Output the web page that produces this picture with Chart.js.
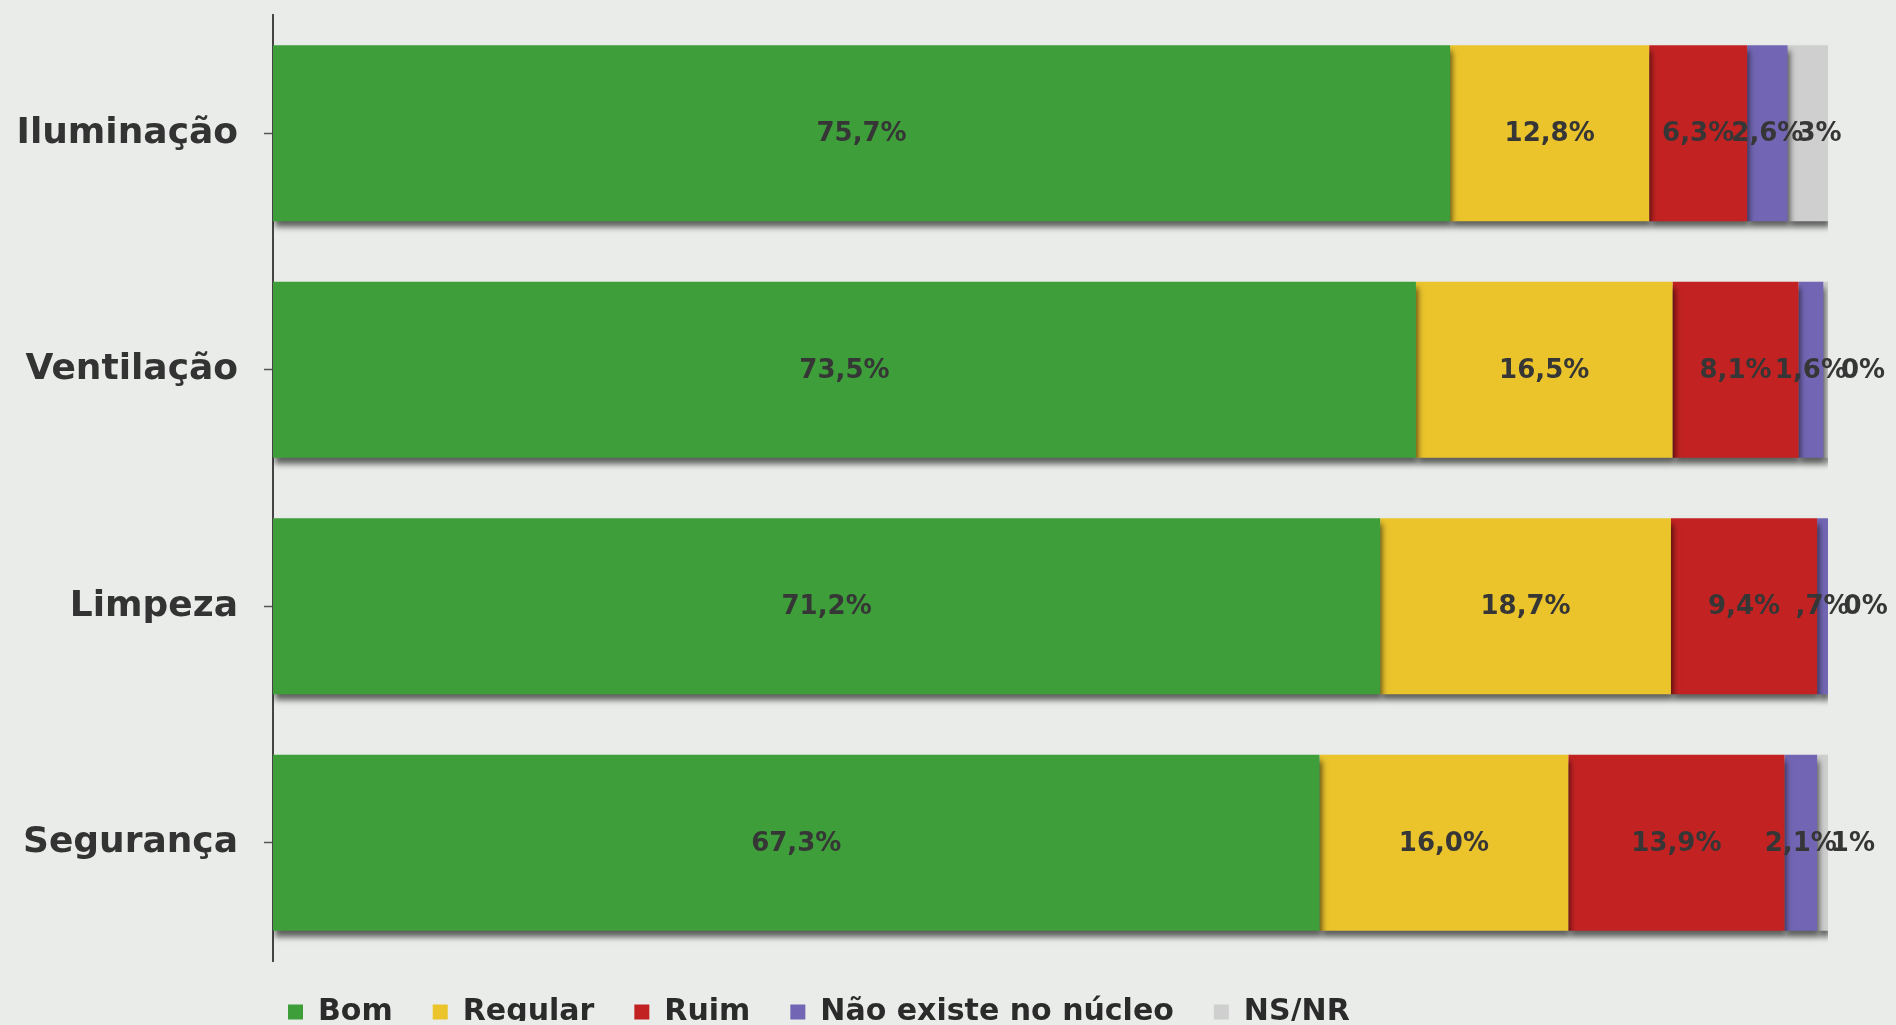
<!DOCTYPE html>
<html><head><meta charset="utf-8">
<script src="https://cdn.jsdelivr.net/npm/chart.js@4/dist/chart.umd.min.js"></script>
<style>html,body{margin:0;padding:0;background:#e9ece8;overflow:hidden}#wrap{width:1896px;height:1025px;position:relative}</style>
</head><body><div id="wrap"><canvas id="c"></canvas></div>
<script>
const categories = ['Iluminação', 'Ventilação', 'Limpeza', 'Segurança'];
const seriesNames = ['Bom', 'Regular', 'Ruim', 'Não existe no núcleo', 'NS/NR'];
const bom = [75.7, 73.5, 71.2, 67.3];
const regular = [12.8, 16.5, 18.7, 16.0];
const ruim = [6.3, 8.1, 9.4, 13.9];
const naoExiste = [2.6, 1.6, 0.7, 2.1];
const nsnr = [2.6, 0.3, 0.0, 0.7];
const labelDecimals = [1, 1, 1, 1, 0];
const seriesColors = ['#3d9e3a', '#ebc42c', '#c22322', '#7266b4', '#cfcfcf'];
const seriesValues = [bom, regular, ruim, naoExiste, nsnr];

function fmt(v, d) {
  let s = v.toFixed(d).replace('.', ',');
  if (d > 0 && s.startsWith('0,')) s = s.slice(1);
  return s + '%';
}

const shadowPlugin = {
  id: 'barShadow',
  beforeDatasetsDraw(chart) {
    const ctx = chart.ctx;
    ctx.save();
    ctx.shadowColor = 'rgba(0,0,0,0.6)';
    ctx.shadowBlur = 6;
    ctx.shadowOffsetX = 2;
    ctx.shadowOffsetY = 6;
  },
  afterDatasetsDraw(chart) { chart.ctx.restore(); }
};

const labelPlugin = {
  id: 'segLabels',
  afterDraw(chart) {
    const ctx = chart.ctx;
    ctx.save();
    ctx.font = 'bold 26px "DejaVu Sans"';
    ctx.fillStyle = '#363636';
    ctx.textBaseline = 'middle';
    ctx.textAlign = 'left';
    categories.forEach((c, i) => {
      let prevRight = -Infinity;
      chart.data.datasets.forEach((ds, di) => {
        const el = chart.getDatasetMeta(di).data[i];
        const txt = fmt(ds.data[i], labelDecimals[di]);
        const w = ctx.measureText(txt).width;
        let left = (el.x + el.base) / 2 - w / 2;
        if (left < prevRight - 6) left = prevRight - 6;
        ctx.fillText(txt, left, el.y + 1);
        prevRight = left + w;
      });
    });
    ctx.restore();
  }
};

const legendShift = {
  id: 'legendShift',
  afterLayout(chart) {
    const lg = chart.legend;
    const pad = lg.options.labels.padding;
    const startX = (lg.left + pad + lg.right - lg.lineWidths[0]) / 2;
    const dx = 288 - startX;
    lg.left += dx; lg.right += dx;
    lg.top -= 4; lg.bottom -= 4;
  }
};

new Chart(document.getElementById('c'), {
  type: 'bar',
  data: {
    labels: categories,
    datasets: seriesNames.map((n, i) => ({
      label: n,
      data: seriesValues[i],
      backgroundColor: seriesColors[i],
      borderWidth: 0,
      barPercentage: 0.745,
      categoryPercentage: 1
    }))
  },
  options: {
    indexAxis: 'y',
    responsive: true,
    maintainAspectRatio: false,
    animation: false,
    layout: { padding: { top: 15, right: 68, bottom: 0, left: 0 } },
    scales: {
      x: { stacked: true, min: 0, max: 100, display: false },
      y: {
        stacked: true,
        afterFit(s) { s.width = 273; s.paddingTop = 0; s.paddingBottom = 0; },
        grid: { offset: false, drawOnChartArea: false, tickLength: 9, color: '#555', tickWidth: 1.5 },
        border: { display: true, color: '#444', width: 2 },
        ticks: { padding: 26, color: '#333', font: { family: '"DejaVu Sans"', weight: 'bold', size: 36 } }
      }
    },
    plugins: {
      tooltip: { enabled: false },
      legend: {
        position: 'bottom',
        maxHeight: 64,
        labels: {
          boxWidth: 15, boxHeight: 15, padding: 40,
          color: '#2b2b2b',
          font: { family: '"DejaVu Sans"', weight: 'bold', size: 30 }
        }
      }
    }
  },
  plugins: [shadowPlugin, labelPlugin, legendShift]
});
</script>
</body></html>
